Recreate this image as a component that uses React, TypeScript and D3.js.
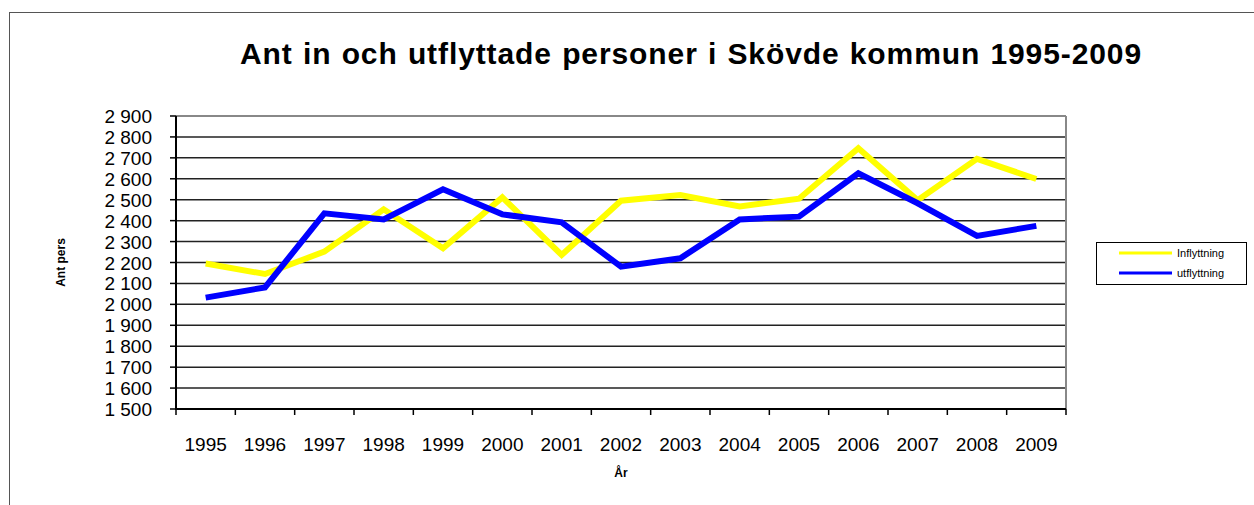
import React from 'react';
import { scaleBand, scaleLinear, line, range } from 'd3';

const years = ['1995','1996','1997','1998','1999','2000','2001','2002','2003','2004','2005','2006','2007','2008','2009'];
const inflyttning = [2195, 2145, 2252, 2454, 2268, 2511, 2236, 2495, 2522, 2468, 2505, 2746, 2498, 2695, 2599];
const utflyttning = [2032, 2081, 2435, 2406, 2550, 2430, 2392, 2180, 2220, 2406, 2419, 2626, 2483, 2327, 2375];
const yTicks = range(1500, 2901, 100);

const W = 1254;
const H = 505;
const plot = { left: 176, right: 1066, top: 116, bottom: 409 };
const font = '"Liberation Sans", Arial, sans-serif';

const fmt = (v: number) => {
  const s = String(v);
  return s.length > 3 ? s.slice(0, s.length - 3) + ' ' + s.slice(-3) : s;
};

export default function App() {
  const x = scaleBand<string>().domain(years).range([plot.left, plot.right]);
  const y = scaleLinear().domain([1500, 2900]).range([plot.bottom, plot.top]);
  const gen = line<number>()
    .x((_, i) => (x(years[i]) as number) + x.bandwidth() / 2)
    .y(d => y(d));

  const series = [
    { name: 'Inflyttning', values: inflyttning, color: '#ffff00' },
    { name: 'utflyttning', values: utflyttning, color: '#0000ff' },
  ];

  return (
    <svg width={W} height={H} style={{ position: 'absolute', left: 0, top: 0, background: '#fff' }}>
      <rect x={9.5} y={12.5} width={W + 10} height={H + 10} fill="#fff" stroke="#555" strokeWidth={1} />
      <text x={691} y={64} textAnchor="middle" fontFamily={font} fontWeight="bold" fontSize={30}
        letterSpacing={0.9} wordSpacing={1} fill="#000">
        Ant in och utflyttade personer i Skövde kommun 1995-2009
      </text>

      {/* gridlines */}
      {yTicks.map(t => (
        <g key={t}>
          {t < 2900 && t > 1500 && (
            <line x1={plot.left} x2={plot.right} y1={y(t)} y2={y(t)} stroke="#222" strokeWidth={1.5} />
          )}
          <line x1={plot.left - 6} x2={plot.left} y1={y(t)} y2={y(t)} stroke="#000" strokeWidth={1.5} />
          <text x={152} y={y(t) + 7} textAnchor="end" fontFamily={font} fontSize={19} fill="#000">
            {fmt(t)}
          </text>
        </g>
      ))}
      <line x1={plot.left} x2={plot.right} y1={plot.top} y2={plot.top} stroke="#888" strokeWidth={2} />
      <line x1={plot.right} x2={plot.right} y1={plot.top} y2={plot.bottom} stroke="#888" strokeWidth={2} />
      <line x1={plot.left} x2={plot.left} y1={plot.top} y2={plot.bottom + 1} stroke="#000" strokeWidth={2} />
      <line x1={plot.left} x2={plot.right} y1={plot.bottom} y2={plot.bottom} stroke="#000" strokeWidth={2} />

      {/* x ticks */}
      {years.map(yr => (
        <line key={'t' + yr} x1={x(yr)} x2={x(yr)} y1={plot.bottom} y2={plot.bottom + 6} stroke="#000" strokeWidth={1.5} />
      ))}
      <line x1={plot.right} x2={plot.right} y1={plot.bottom} y2={plot.bottom + 6} stroke="#000" strokeWidth={1.5} />
      {years.map(yr => (
        <text key={'l' + yr} x={(x(yr) as number) + x.bandwidth() / 2} y={451} textAnchor="middle" fontFamily={font} fontSize={19} fill="#000">
          {yr}
        </text>
      ))}

      <text x={621} y={477} textAnchor="middle" fontFamily={font} fontWeight="bold" fontSize={12}>År</text>
      <text transform={`translate(65,${(plot.top + plot.bottom) / 2}) rotate(-90)`} textAnchor="middle" fontFamily={font} fontWeight="bold" fontSize={12}>
        Ant pers
      </text>

      {series.map(s => (
        <path key={s.name} d={gen(s.values) || ''} fill="none" stroke={s.color} strokeWidth={6} strokeLinejoin="miter" />
      ))}

      {/* legend */}
      <rect x={1096.5} y={242.5} width={150} height={42} fill="#fff" stroke="#000" strokeWidth={1} />
      {series.map((s, i) => (
        <g key={'lg' + s.name}>
          <line x1={1119} x2={1172} y1={253 + i * 20} y2={253 + i * 20} stroke={s.color} strokeWidth={3} />
          <text x={1177} y={257 + i * 20} fontFamily={font} fontSize={11} fill="#000">{s.name}</text>
        </g>
      ))}
    </svg>
  );
}
